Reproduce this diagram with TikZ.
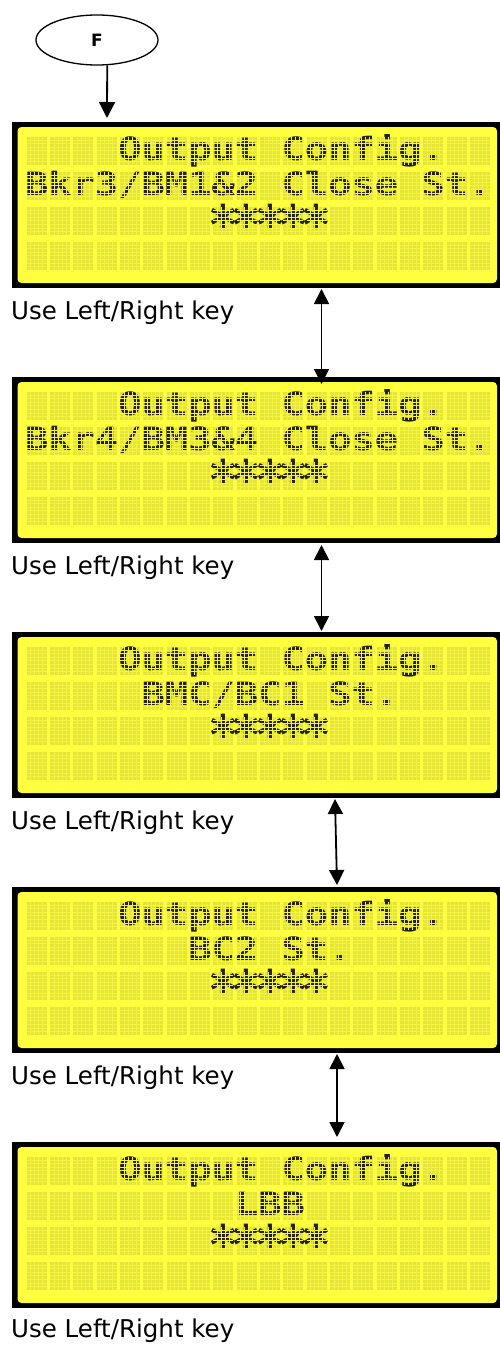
\documentclass[tikz,border=0pt]{standalone}
\usepackage{fontspec}
\setmainfont{DejaVu Sans}
\newfontfamily\lcdfont{DejaVu Sans Mono}
\usetikzlibrary{arrows.meta,calc,shapes.geometric}

\definecolor{lcdbg}{RGB}{255,255,64}
\definecolor{lcdcell}{RGB}{228,228,58}
\definecolor{lcdgrid}{RGB}{244,244,62}
\definecolor{lcdink}{RGB}{34,34,18}

% one LCD character pitch is 23.33 units, a cell is 20 x 28.3
\newcommand{\lcdxs}{1.0}
\pgfmathsetmacro{\lcdxs}{23.333/(0.6021*32)}

\tikzset{
  lcdframe/.style={fill=black, draw=none, minimum width=488, minimum height=166,
                   inner sep=0pt, outer sep=0pt, anchor=north west},
  lcdtxt/.style={inner sep=0pt, outer sep=0pt, anchor=base west, text=lcdink,
                 font=\lcdfont\bfseries\fontsize{32}{32}\selectfont},
  keylabel/.style={inner sep=0pt, anchor=base west, font=\fontsize{24.5}{28}\selectfont},
  start/.style={draw, ellipse, line width=1.3pt, minimum width=122, minimum height=50,
                inner sep=0pt, font=\bfseries\fontsize{17}{18}\selectfont},
  link/.style={line width=1.8pt, {Triangle[length=15pt,width=15pt]}-{Triangle[length=15pt,width=15pt]}},
  entry/.style={line width=1.8pt, -{Triangle[length=16pt,width=16pt]}}
}

% frame, yellow panel and the 4 x 20 character cells of one display
\newcommand{\lcdscreen}[2]{%
  \node[lcdframe] (#1) at (12,#2) {};
  \fill[lcdbg, rounded corners=4pt] (17.5,{#2+5}) rectangle (497,{#2+161});
  \foreach \r in {0,...,3}{
    \foreach \c in {0,...,19}{
      \fill[lcdcell] ({26.67+23.333*\c},{#2+14.7+35*\r}) rectangle ++(20,28.3);
    }
  }
}
% dot raster laid over the cells (splits the glyphs into dots)
\newcommand{\lcddots}[1]{%
  \foreach \r in {0,...,3}{
    \foreach \c in {0,...,19}{
      \begin{scope}[shift={({26.67+23.333*\c},{#1+14.7+35*\r})}]
        \draw[lcdgrid, line width=0.75pt]
          (4,0) -- (4,28.3) (8,0) -- (8,28.3) (12,0) -- (12,28.3) (16,0) -- (16,28.3)
          (0,3.54) -- (20,3.54) (0,7.08) -- (20,7.08) (0,10.61) -- (20,10.61)
          (0,14.15) -- (20,14.15) (0,17.69) -- (20,17.69) (0,21.23) -- (20,21.23)
          (0,24.76) -- (20,24.76);
      \end{scope}
    }
  }
}
% text on display row #3, starting at column #4
\newcommand{\lcdline}[5]{%
  \node[lcdtxt] (#1) at ({26.67+23.333*#4-1.67},{#2+14.7+35*#3+23.5})
    {\scalebox{\lcdxs}[1]{#5}};
}
% one enlarged asterisk filling a character cell
\newcommand{\lcdstar}{\makebox[23.333pt]{\scalebox{1.55}[1.7]{*}}}
% row of five asterisks on display row 2, columns 8 to 12
\newcommand{\lcdstars}[2]{%
  \node[lcdtxt] (#1) at ({26.67+23.333*8-1.67},{#2+14.7+35*2+37.5})
    {\lcdstar\lcdstar\lcdstar\lcdstar\lcdstar};
}

\begin{document}
\begin{tikzpicture}[x=1pt,y=-1pt]
\useasboundingbox (0,0) rectangle (500,1346);

% entry point
\node[start] (e) at (97,40) {\raisebox{-2pt}{F}};

% displays
\lcdscreen{s1}{122}
\lcdline{s1a}{122}{0}{4}{Output Config.}
\lcdline{s1b}{122}{1}{0}{Bkr3/BM1\&2 Close St.}
\lcdstars{s1c}{122}
\lcddots{122}

\lcdscreen{s2}{377}
\lcdline{s2a}{377}{0}{4}{Output Config.}
\lcdline{s2b}{377}{1}{0}{Bkr4/BM3\&4 Close St.}
\lcdstars{s2c}{377}
\lcddots{377}

\lcdscreen{s3}{632}
\lcdline{s3a}{632}{0}{4}{Output Config.}
\lcdline{s3b}{632}{1}{5}{BMC/BC1 St.}
\lcdstars{s3c}{632}
\lcddots{632}

\lcdscreen{s4}{887}
\lcdline{s4a}{887}{0}{4}{Output Config.}
\lcdline{s4b}{887}{1}{7}{BC2 St.}
\lcdstars{s4c}{887}
\lcddots{887}

\lcdscreen{s5}{1142}
\lcdline{s5a}{1142}{0}{4}{Output Config.}
\lcdline{s5b}{1142}{1}{9}{LBB}
\lcdstars{s5c}{1142}
\lcddots{1142}

% key hints
\node[keylabel] (k1) at (11,319) {Use Left/Right key};
\node[keylabel] (k2) at (11,574) {Use Left/Right key};
\node[keylabel] (k3) at (11,829) {Use Left/Right key};
\node[keylabel] (k4) at (11,1084) {Use Left/Right key};
\node[keylabel] (k5) at (11,1337) {Use Left/Right key};

% arrow ends
\coordinate (a1t) at (321.5,289);  \coordinate (a1b) at (321.5,384);
\coordinate (a2t) at (321.5,545);  \coordinate (a2b) at (321.5,631);
\coordinate (a3t) at (335,799);    \coordinate (a3b) at (337,885);
\coordinate (a4t) at (337,1054);   \coordinate (a4b) at (337,1137);
\coordinate (f0) at (107,118);

\draw[entry] (e.-68) -- (f0);
\draw[link] (a1t) -- (a1b);
\draw[link] (a2t) -- (a2b);
\draw[link] (a3t) -- (a3b);
\draw[link] (a4t) -- (a4b);
\end{tikzpicture}
\end{document}
